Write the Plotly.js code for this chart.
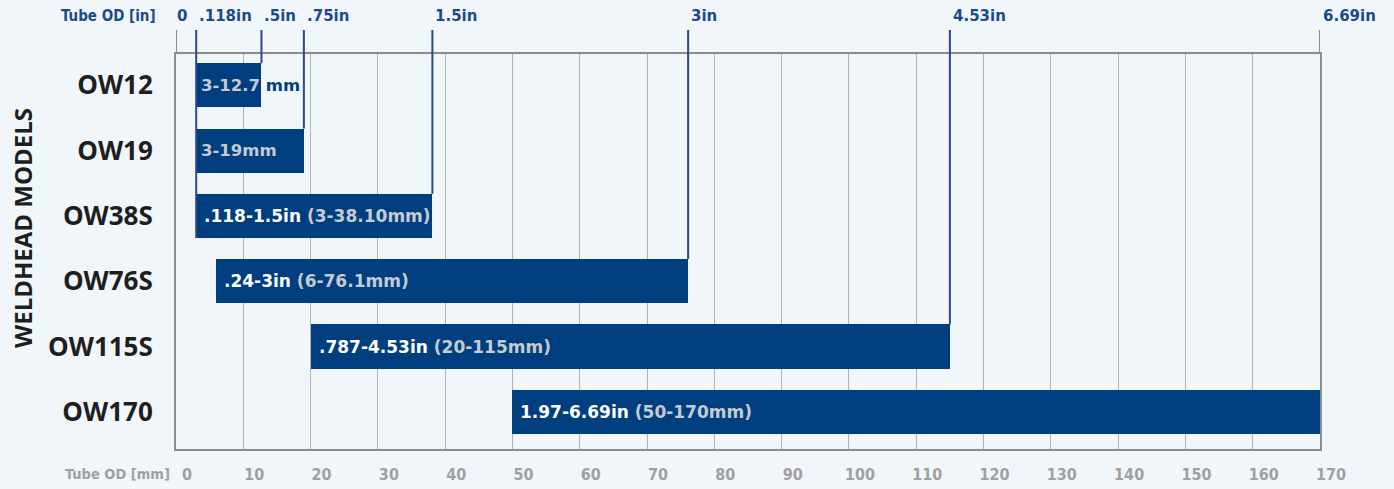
<!DOCTYPE html>
<html>
<head>
<meta charset="utf-8">
<script src="https://cdn.plot.ly/plotly-3.0.1.min.js"></script>
<style>html,body{margin:0;padding:0;background:#f1f6fb;}#chart{width:1394px;height:489px;}</style>
</head>
<body>
<div id="chart"></div>
<script>
// ---- data ----
const models = ['OW12', 'OW19', 'OW38S', 'OW76S', 'OW115S', 'OW170'];
const startMM = [3, 3, 3, 6, 20, 50];
const endMM = [12.7, 19, 38.1, 76.1, 115, 170];
const inchRange = ['', '', '.118-1.5in', '.24-3in', '.787-4.53in', '1.97-6.69in'];
const mmRange = ['3-12.7 mm', '3-19mm', '3-38.10mm', '6-76.1mm', '20-115mm', '50-170mm'];
const mmTicks = [0, 10, 20, 30, 40, 50, 60, 70, 80, 90, 100, 110, 120, 130, 140, 150, 160, 170];
const inchMarkMM = [0, 3, 12.7, 19, 38.1, 76.1, 115, 170];
const inchMarkLabels = ['0', '.118in', '.5in', '.75in', '1.5in', '3in', '4.53in', '6.69in'];
// model each inch line reaches down to ('' = plot border), and which edge of that bar
const inchMarkTo = ['', 'OW38S', 'OW12', 'OW19', 'OW38S', 'OW76S', 'OW115S', ''];
const inchMarkEdge = ['', 'bottom', 'top', 'top', 'top', 'top', 'top', ''];

// ---- style ----
const NAVY = '#003f7f';
const LINE_NAVY = '#2c4a80';
const LABEL_BLUE = '#1b4a8a';
const GRAY_TXT = '#a0a0a0';
const BAR_SUB = '#c6cad2';
const AXIS_GRAY = '#8c8c8c';
const BAR_W = 0.675;
const TOP_EXT = 1 + 24 / 395;
const WIDE = 'DejaVu Sans';

const trace = {
  type: 'bar',
  orientation: 'h',
  y: models,
  base: startMM,
  x: endMM.map((e, i) => e - startMM[i]),
  width: BAR_W,
  marker: {color: NAVY, line: {width: 0}},
  hoverinfo: 'skip',
  showlegend: false
};

const shapes = [];
const annotations = [];

// inch marker lines and labels
inchMarkMM.forEach((v, k) => {
  const isBorder = inchMarkTo[k] === '';
  const col = isBorder ? AXIS_GRAY : LINE_NAVY;
  shapes.push({type: 'line', xref: 'x', yref: 'paper', x0: v, x1: v, y0: 1, y1: TOP_EXT,
    line: {color: col, width: 2}, layer: 'above'});
  if (!isBorder) {
    const idx = models.indexOf(inchMarkTo[k]);
    const yEnd = inchMarkEdge[k] === 'top' ? idx - BAR_W / 2 : idx + BAR_W / 2;
    shapes.push({type: 'line', xref: 'x', yref: 'y', x0: v, x1: v, y0: -0.48, y1: yEnd,
      line: {color: LINE_NAVY, width: 2}, layer: 'above'});
  }
  annotations.push({xref: 'x', yref: 'paper', x: v, y: 1 + 38 / 395, xanchor: 'left', yanchor: 'middle',
    xshift: k === 0 ? -1 : 1, text: '<b>' + inchMarkLabels[k] + '</b>', showarrow: false,
    font: {size: 15, color: LABEL_BLUE, family: WIDE}});
});

// bar labels
models.forEach((m, i) => {
  let txt;
  if (inchRange[i]) {
    txt = '<b><span style="color:#ffffff">' + inchRange[i] + '</span> <span style="color:' + BAR_SUB + '">(' + mmRange[i] + ')</span></b>';
  } else {
    const parts = mmRange[i].split(' ');
    txt = '<b><span style="color:' + BAR_SUB + '">' + parts[0] + '</span>' +
      (parts[1] ? ' <span style="color:' + NAVY + '">' + parts[1] + '</span>' : '') + '</b>';
  }
  annotations.push({xref: 'x', yref: 'y', x: startMM[i], y: m, xanchor: 'left', yanchor: 'middle',
    xshift: inchRange[i] ? 6 : 3, text: txt, showarrow: false,
    font: {size: inchRange[i] ? 17 : 16.5, family: WIDE, color: BAR_SUB}});
});

// axis titles
annotations.push({xref: 'x', yref: 'paper', x: 0, y: 1 + 38 / 395, xanchor: 'right', yanchor: 'middle',
  xshift: -18, text: '<b>Tube OD [in]</b>', showarrow: false,
  font: {size: 15, color: LABEL_BLUE, family: 'DejaVu Sans Condensed'}});
annotations.push({xref: 'x', yref: 'paper', x: 0, y: -25 / 395, xanchor: 'right', yanchor: 'middle',
  xshift: -4, text: '<b>Tube OD [mm]</b>', showarrow: false,
  font: {size: 14.5, color: GRAY_TXT, family: 'DejaVu Sans Condensed'}});
annotations.push({xref: 'paper', yref: 'paper', x: 0, y: (449 - 228) / 395, xanchor: 'center', yanchor: 'middle',
  xshift: -154, textangle: -90, text: '<b>WELDHEAD MODELS</b>', showarrow: false,
  font: {size: 24, color: '#1e1e1e', family: 'Open Sans'}});

const layout = {
  width: 1394,
  height: 489,
  margin: {l: 176, r: 74, t: 54, b: 40, pad: 0},
  paper_bgcolor: '#f1f6fb',
  plot_bgcolor: '#f1f6fb',
  bargap: 0,
  xaxis: {
    range: [0, 170],
    tickvals: mmTicks,
    ticktext: mmTicks.map(String),
    showgrid: true,
    gridcolor: '#b3b3b3',
    gridwidth: 1,
    zeroline: false,
    showline: true,
    mirror: true,
    linecolor: AXIS_GRAY,
    linewidth: 2,
    ticks: '',
    ticklabelshift: 11,
    ticklabelstandoff: 10,
    tickfont: {size: 16, color: GRAY_TXT, family: 'DejaVu Sans Condensed', weight: 'bold'},
    fixedrange: true
  },
  yaxis: {
    type: 'category',
    categoryarray: models,
    range: [5.57, -0.48],
    showgrid: false,
    zeroline: false,
    showline: true,
    mirror: true,
    linecolor: AXIS_GRAY,
    linewidth: 2,
    ticks: '',
    ticklabelstandoff: 16,
    tickfont: {size: 26, color: '#1e1e1e', family: 'Open Sans', weight: 'bold'},
    fixedrange: true
  },
  shapes: shapes,
  annotations: annotations,
  showlegend: false
};

Plotly.newPlot('chart', [trace], layout, {displayModeBar: false, staticPlot: true});
</script>
</body>
</html>
